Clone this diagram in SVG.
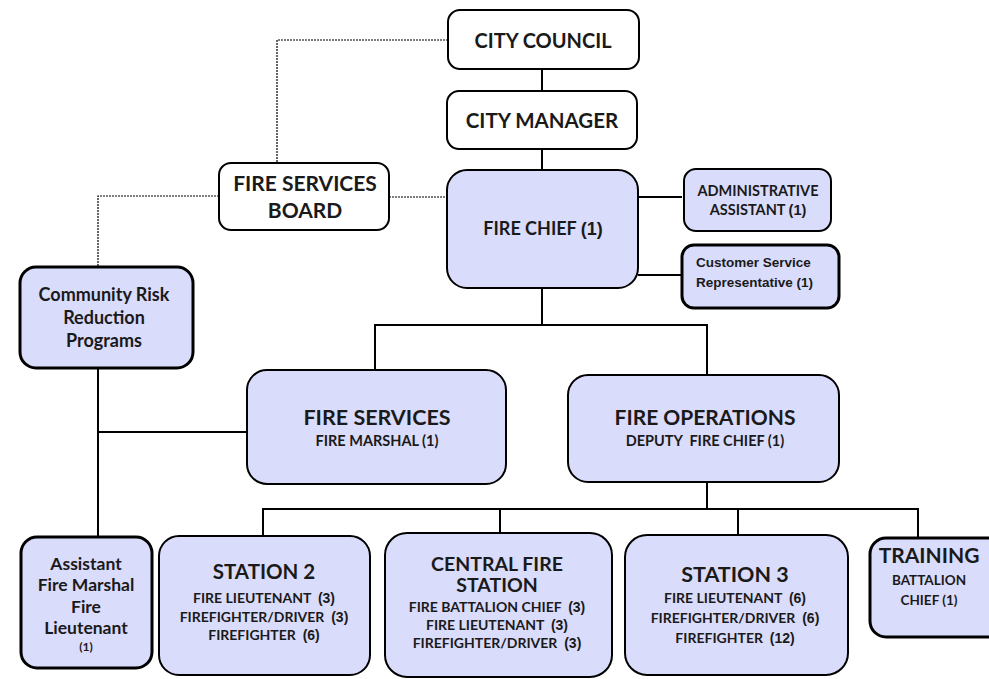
<svg xmlns="http://www.w3.org/2000/svg" width="989" height="679" viewBox="0 0 989 679">
<style>
.w{fill:#ffffff;stroke:#000;stroke-width:2}
.b{fill:#dadcfc;stroke:#000;stroke-width:2}
.bt{fill:#dadcfc;stroke:#000;stroke-width:3}
.c{fill:none;stroke:#000;stroke-width:2}
.d{fill:none;stroke:#000;stroke-width:1.2;stroke-dasharray:2 1}
text{font-family:Lato,"Open Sans","Liberation Sans",sans-serif;font-weight:bold;fill:#1a1a1a;text-anchor:middle;white-space:pre}
.a{font-family:"Liberation Sans",Arial,sans-serif}
.l{font-size:14px}
</style>
<rect width="989" height="679" fill="#ffffff"/>
<g id="connectors">
<path class="d" d="M448,40 H277 V163"/>
<path class="d" d="M389,197 H447"/>
<path class="d" d="M219,196 H98 V267"/>
<path class="c" d="M542,69 V91"/>
<path class="c" d="M542,149 V170"/>
<path class="c" d="M638,197 H682"/>
<path class="c" d="M638,275 H682"/>
<path class="c" d="M542,288 V325"/>
<path class="c" d="M375,325 H707"/>
<path class="c" d="M375,324 V370"/>
<path class="c" d="M707,324 V375"/>
<path class="c" d="M98,368 V537"/>
<path class="c" d="M98,432 H247"/>
<path class="c" d="M707,482 V509"/>
<path class="c" d="M263,509 H918"/>
<path class="c" d="M263,508 V536"/>
<path class="c" d="M500,508 V533"/>
<path class="c" d="M738,508 V535"/>
<path class="c" d="M918,508 V538"/>
</g>
<g id="city-council">
<rect class="w" x="448" y="10" width="191" height="59" rx="12"/>
<text x="543" y="48" font-size="20">CITY COUNCIL</text>
</g>
<g id="city-manager">
<rect class="w" x="447" y="91" width="190" height="58" rx="12"/>
<text x="542" y="128" font-size="20.5">CITY MANAGER</text>
</g>
<g id="fire-services-board">
<rect class="w" x="219" y="163" width="170" height="67" rx="12"/>
<text x="305" y="191" font-size="21">FIRE SERVICES</text>
<text x="305" y="218" font-size="21">BOARD</text>
</g>
<g id="fire-chief">
<rect class="b" x="447" y="170" width="191" height="118" rx="20"/>
<text x="543" y="235" font-size="18">FIRE CHIEF <tspan class="a">(1)</tspan></text>
</g>
<g id="admin-assistant">
<rect class="b" x="684" y="169" width="147" height="62" rx="12"/>
<text x="758" y="196" font-size="14.5">ADMINISTRATIVE</text>
<text x="758" y="215" font-size="14.5">ASSISTANT <tspan class="a">(1)</tspan></text>
</g>
<g id="customer-service">
<rect class="bt" x="682" y="245" width="157" height="63" rx="12"/>
<text class="a" x="696" y="267" font-size="13.5" style="text-anchor:start">Customer Service</text>
<text class="a" x="696" y="287" font-size="13.5" style="text-anchor:start">Representative (1)</text>
</g>
<g id="community-risk">
<rect class="bt" x="20" y="267" width="173" height="101" rx="16"/>
<text x="104" y="301" font-size="18">Community Risk</text>
<text x="104" y="324" font-size="18">Reduction</text>
<text x="104" y="347" font-size="18">Programs</text>
</g>
<g id="fire-services">
<rect class="b" x="247" y="370" width="259" height="114" rx="20"/>
<text x="377" y="425" font-size="21.5">FIRE SERVICES</text>
<text x="377" y="446" font-size="14.5">FIRE MARSHAL (1)</text>
</g>
<g id="fire-operations">
<rect class="b" x="568" y="375" width="271" height="107" rx="20"/>
<text x="705" y="425" font-size="21">FIRE OPERATIONS</text>
<text x="705" y="446" font-size="14.5">DEPUTY  FIRE CHIEF (1)</text>
</g>
<g id="assistant-fire-marshal">
<rect class="bt" x="21" y="537" width="131" height="131" rx="16"/>
<text x="86" y="570" font-size="17.5">Assistant</text>
<text x="86" y="591" font-size="17.5">Fire Marshal</text>
<text x="86" y="613" font-size="17.5">Fire</text>
<text x="86" y="634" font-size="17.5">Lieutenant</text>
<text x="86" y="651" font-size="12">(1)</text>
</g>
<g id="station-2">
<rect class="b" x="159" y="536" width="211" height="139" rx="20"/>
<text x="264" y="579" font-size="20.5">STATION 2</text>
<text class="l" x="264" y="603">FIRE LIEUTENANT  <tspan class="a">(3)</tspan></text>
<text class="l" x="264" y="622">FIREFIGHTER/DRIVER  <tspan class="a">(3)</tspan></text>
<text class="l" x="264" y="640">FIREFIGHTER  <tspan class="a">(6)</tspan></text>
</g>
<g id="central-fire-station">
<rect class="b" x="385" y="533" width="227" height="144" rx="22"/>
<text x="497" y="571" font-size="19.5">CENTRAL FIRE</text>
<text x="497" y="592" font-size="19.5">STATION</text>
<text class="l" x="497" y="612">FIRE BATTALION CHIEF  <tspan class="a">(3)</tspan></text>
<text class="l" x="497" y="630">FIRE LIEUTENANT  <tspan class="a">(3)</tspan></text>
<text class="l" x="497" y="648">FIREFIGHTER/DRIVER  <tspan class="a">(3)</tspan></text>
</g>
<g id="station-3">
<rect class="b" x="625" y="535" width="223" height="140" rx="22"/>
<text x="735" y="582" font-size="21.5">STATION 3</text>
<text class="l" x="735" y="603">FIRE LIEUTENANT  <tspan class="a">(6)</tspan></text>
<text class="l" x="735" y="623">FIREFIGHTER/DRIVER  <tspan class="a">(6)</tspan></text>
<text class="l" x="735" y="643">FIREFIGHTER  <tspan class="a">(12)</tspan></text>
</g>
<g id="training">
<rect class="bt" x="870" y="538" width="135" height="99" rx="16"/>
<text x="929" y="563" font-size="21">TRAINING</text>
<text x="929" y="585" font-size="13.5">BATTALION</text>
<text x="929" y="605" font-size="13.5">CHIEF (1)</text>
</g>
</svg>
